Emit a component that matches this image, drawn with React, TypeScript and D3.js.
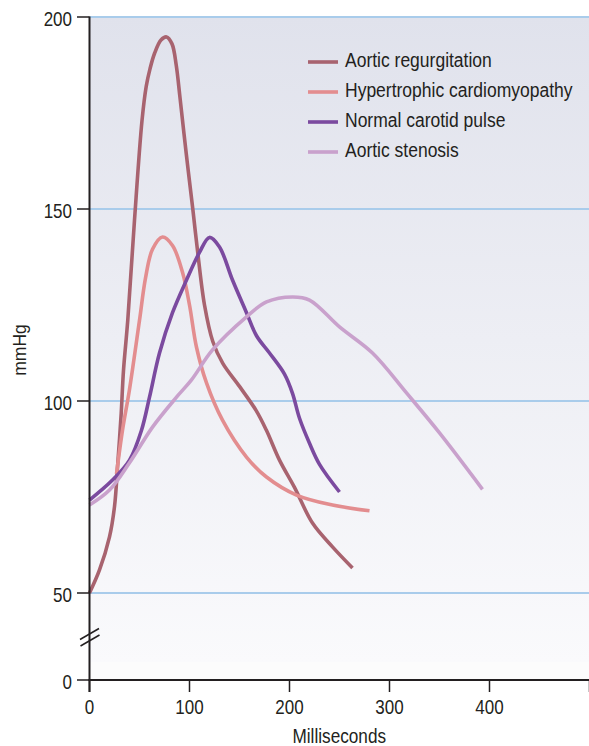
import React from "react";
import * as d3 from "d3";

type Pt = [number, number];

const seriesNames = [
  "Aortic regurgitation",
  "Hypertrophic cardiomyopathy",
  "Normal carotid pulse",
  "Aortic stenosis",
];
const seriesColors = ["#a8636f", "#e38d8f", "#7b4a9f", "#c9a1cc"];

const aorticRegurgitation: Pt[] = [
  [0, 50], [10, 56], [20, 64.6], [25, 72.5], [28.3, 83.8], [31.7, 96.8], [34, 108],
  [38.3, 121.1], [45, 147.1], [52.5, 173], [56.7, 181.9], [60.5, 186.5], [65, 190.5],
  [71.5, 194], [77, 194.8], [82.5, 193], [86.7, 187.5], [90.5, 179], [96.7, 164.5],
  [103.3, 150], [108.3, 138.5], [115, 125],
  [123.3, 115.5], [133.3, 109.8], [150, 103.8], [166.7, 97.5], [176.7, 92.5], [190, 84.6],
  [205, 77.5], [223, 68.2], [243, 62], [263, 56.5],
];
const hypertrophic: Pt[] = [
  [27, 81], [33, 92.4], [40, 103], [50, 121], [56, 132], [63, 139.5], [73, 142.7],
  [83, 140.5], [93, 133.5], [100, 125], [107, 114], [117, 104.7], [133, 95], [157, 85.4],
  [177, 80.2], [207, 75.5], [243, 72.9], [280, 71.4],
];
const normalPulse: Pt[] = [
  [0, 74.2], [23, 79.4], [40, 84.6], [52, 92.4], [60, 101], [70, 112.5], [83, 123],
  [97, 131.5], [110, 138.7], [120, 142.6], [130, 140.1], [143, 131.5], [157, 123],
  [167, 117], [180, 112.5], [195, 107], [203, 102], [210, 95.5],
  [220, 89], [230, 83.5], [250, 76.3],
];
const aorticStenosis: Pt[] = [
  [0, 72.9], [20, 76.8], [40, 83.9], [63, 93.2], [87, 101], [102, 105.5], [123, 113.3],
  [157, 121.9], [177, 125.8], [203, 127.1], [220, 126.3], [250, 119.3], [283, 112.5],
  [317, 102.1], [350, 91.7], [393, 77],
];
const seriesData = [aorticRegurgitation, hypertrophic, normalPulse, aorticStenosis];

const yTicks = [0, 50, 100, 150, 200];
const gridValues = [50, 100, 150, 200];
const xTicks = [0, 100, 200, 300, 400, 500];
const xLabelled = [0, 100, 200, 300, 400];

const W = 589;
const H = 746;
const ink = "#231f20";
const font = "'Liberation Sans', Arial, Helvetica, sans-serif";

export default function App() {
  const x = d3.scaleLinear().domain([0, 500]).range([89.5, 589.5]);
  const y = d3.scaleLinear().domain([0, 50, 200]).range([680, 593, 17]);
  const line = d3
    .line<Pt>()
    .x((d) => x(d[0]))
    .y((d) => y(d[1]))
    .curve(d3.curveCatmullRom.alpha(0.5));

  const left = x(0);
  const right = W;
  const top = y(200);
  const bottom = y(0);
  const sx = 0.85;

  return (
    <svg
      width={W}
      height={H}
      style={{ position: "absolute", left: 0, top: 0, background: "#fff" }}
      fontFamily={font}
    >
      <defs>
        <linearGradient id="bg" x1="0" y1="0" x2="0" y2="1">
          <stop offset="0" stopColor="#e0e2ec" />
          <stop offset="1" stopColor="#fafafc" />
        </linearGradient>
      </defs>
      <rect x={left} y={top} width={right - left} height={662 - top} fill="url(#bg)" />
      <rect x={left} y={662} width={right - left} height={bottom - 662} fill="#fcfcfc" />

      {gridValues.map((v) => (
        <line key={v} x1={left} x2={right} y1={y(v)} y2={y(v)} stroke="#a9cceb" strokeWidth={2} />
      ))}

      {seriesData.map((d, i) => (
        <path
          key={i}
          d={line(d) || ""}
          fill="none"
          stroke={seriesColors[i]}
          strokeWidth={3.6}
          strokeLinecap="butt"
          strokeLinejoin="round"
        />
      ))}

      {/* y axis */}
      <line x1={left} x2={left} y1={top - 0.5} y2={bottom + 12} stroke={ink} strokeWidth={2} />
      {yTicks.map((v) => (
        <g key={v}>
          <line x1={77} x2={left} y1={y(v)} y2={y(v)} stroke={ink} strokeWidth={1.5} />
          <text
            transform={`translate(72,${y(v) + 8.5}) scale(${sx},1)`}
            textAnchor="end"
            fontSize={20}
            fill={ink}
          >
            {v}
          </text>
        </g>
      ))}
      {/* axis break */}
      <line x1={80} y1={639.5} x2={99} y2={628.5} stroke={ink} strokeWidth={1.5} />
      <line x1={80.5} y1={646} x2={99.5} y2={635} stroke={ink} strokeWidth={1.5} />

      {/* x axis */}
      <line x1={left - 1} x2={right} y1={bottom} y2={bottom} stroke={ink} strokeWidth={2} />
      {xTicks.map((v) => (
        <line key={v} x1={x(v)} x2={x(v)} y1={bottom} y2={bottom + 12} stroke={ink} strokeWidth={1.5} />
      ))}
      {xLabelled.map((v) => (
        <text
          key={v}
          transform={`translate(${x(v)},714) scale(${sx},1)`}
          textAnchor="middle"
          fontSize={20}
          fill={ink}
        >
          {v}
        </text>
      ))}
      <text
        transform={`translate(${(left + right) / 2},743) scale(0.86,1)`}
        textAnchor="middle"
        fontSize={20}
        fill={ink}
      >
        Milliseconds
      </text>
      <text
        transform={`translate(26,350) rotate(-90)`}
        textAnchor="middle"
        fontSize={17.5}
        fill={ink}
      >
        mmHg
      </text>

      {/* legend */}
      {seriesNames.map((name, i) => (
        <g key={name}>
          <line x1={308} x2={338} y1={62 + i * 30} y2={62 + i * 30} stroke={seriesColors[i]} strokeWidth={3.6} />
          <text
            transform={`translate(345,${67 + i * 30}) scale(0.875,1)`}
            fontSize={20}
            fill={ink}
          >
            {name}
          </text>
        </g>
      ))}
    </svg>
  );
}
